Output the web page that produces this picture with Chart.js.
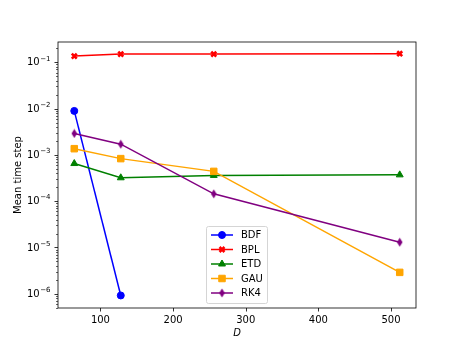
<!DOCTYPE html>
<html>
<head>
<meta charset="utf-8">
<script src="https://cdn.jsdelivr.net/npm/chart.js@4.4.0/dist/chart.umd.min.js"></script>
<style>
  html, body { margin: 0; padding: 0; background: #fff; }
  #wrap { width: 463px; height: 347px; }
</style>
</head>
<body>
<div id="wrap"><canvas id="chart"></canvas></div>
<script>
// values (log y)
const dims = [64, 128, 256, 512];
const bdf = [8.9e-3, 9.2e-7];
const bpl = [0.136, 0.150, 0.150, 0.153];
const etd = [6.5e-4, 3.2e-4, 3.6e-4, 3.7e-4];
const gau = [1.36e-3, 8.3e-4, 4.4e-4, 2.9e-6];
const rk4 = [2.9e-3, 1.7e-3, 1.44e-4, 1.3e-5];
const names = ['BDF', 'BPL', 'ETD', 'GAU', 'RK4'];
const colors = ['#0000ff', '#ff0000', '#008000', '#ffa500', '#800080'];
const xTicks = [100, 200, 300, 400, 500];
const yDecades = [1e-6, 1e-5, 1e-4, 1e-3, 1e-2, 1e-1];

const FONT = '"DejaVu Sans", sans-serif';

// thin diamond marker (matplotlib 'd')
function thinDiamond(color) {
    const c = document.createElement('canvas');
    c.width = 7; c.height = 10;
    const g = c.getContext('2d');
    g.fillStyle = color;
    g.beginPath();
    g.moveTo(3.5, 0.5); g.lineTo(6.3, 5); g.lineTo(3.5, 9.5); g.lineTo(0.7, 5);
    g.closePath(); g.fill();
    return c;
}

const markers = [
    { pointStyle: 'circle', radius: 3.5, borderWidth: 1 },
    { pointStyle: 'crossRot', radius: 3.5, borderWidth: 2.6 },
    { pointStyle: 'triangle', radius: 4, borderWidth: 1 },
    { pointStyle: 'rect', radius: 4.6, borderWidth: 1 },
    { pointStyle: thinDiamond(colors[4]), radius: 4, borderWidth: 1 }
];
const series = [bdf, bpl, etd, gau, rk4];

const datasets = series.map((vals, i) => ({
    label: names[i],
    data: vals.map((v, j) => ({ x: dims[j], y: v })),
    borderColor: colors[i],
    backgroundColor: colors[i],
    borderWidth: 1.5,
    pointStyle: markers[i].pointStyle,
    pointRadius: markers[i].radius,
    pointBorderWidth: markers[i].borderWidth,
    pointHoverRadius: markers[i].radius,
    tension: 0,
    order: 4 - i
}));

const framePlugin = {
    id: 'frame',
    afterDatasetsDraw(chart) {
        const { ctx, chartArea: a, scales: { x, y } } = chart;
        ctx.save();
        ctx.strokeStyle = '#000';
        ctx.lineWidth = 0.8;
        ctx.strokeRect(a.left, a.top, a.right - a.left, a.bottom - a.top);
        ctx.beginPath();
        xTicks.forEach(v => {
            const px = Math.round(x.getPixelForValue(v)) + 0.5;
            ctx.moveTo(px, a.bottom); ctx.lineTo(px, a.bottom + 3.5);
        });
        yDecades.forEach(v => {
            const py = Math.round(y.getPixelForValue(v)) + 0.5;
            ctx.moveTo(a.left, py); ctx.lineTo(a.left - 3.5, py);
        });
        ctx.stroke();
        ctx.lineWidth = 0.6;
        ctx.beginPath();
        for (let e = -7; e <= 0; e++) {
            for (let k = 2; k <= 9; k++) {
                const v = k * Math.pow(10, e);
                if (v < y.min || v > y.max) continue;
                const py = Math.round(y.getPixelForValue(v)) + 0.5;
                ctx.moveTo(a.left, py); ctx.lineTo(a.left - 2, py);
            }
        }
        ctx.stroke();

        // y tick labels as 10 with raised exponent
        ctx.fillStyle = '#000';
        ctx.textBaseline = 'middle';
        ctx.textAlign = 'left';
        yDecades.forEach(v => {
            const py = y.getPixelForValue(v);
            const exp = '\u2212' + Math.abs(Math.round(Math.log10(v)));
            ctx.font = '7px ' + FONT;
            const ew = ctx.measureText(exp).width;
            ctx.font = '10px ' + FONT;
            const bw = ctx.measureText('10').width;
            const right = a.left - 7.5;
            ctx.fillText('10', right - ew - bw - 0.5, py + 0.5);
            ctx.font = '7px ' + FONT;
            ctx.fillText(exp, right - ew, py - 3.5);
        });

        // legend box inside plot
        const lx = 206, ly = 226, lw = 61, lh = 77;
        ctx.fillStyle = 'rgba(255,255,255,0.8)';
        ctx.strokeStyle = '#d5d5d5';
        ctx.lineWidth = 1;
        ctx.beginPath();
        ctx.roundRect(lx + 0.5, ly + 0.5, lw, lh, 2);
        ctx.fill(); ctx.stroke();
        ctx.font = '10px ' + FONT;
        ctx.textBaseline = 'middle';
        names.forEach((n, i) => {
            const yy = 235 + i * 14.5;
            ctx.strokeStyle = colors[i];
            ctx.lineWidth = 1.5;
            ctx.beginPath();
            ctx.moveTo(211, yy); ctx.lineTo(233, yy);
            ctx.stroke();
            ctx.fillStyle = colors[i];
            ctx.lineWidth = markers[i].borderWidth;
            Chart.helpers.drawPoint(ctx, {
                pointStyle: markers[i].pointStyle,
                radius: markers[i].radius,
                borderWidth: markers[i].borderWidth,
                rotation: 0
            }, 222, yy);
            ctx.fillStyle = '#000';
            ctx.fillText(n, 241, yy + 0.5);
        });
        ctx.restore();
    }
};

new Chart(document.getElementById('chart'), {
    type: 'line',
    data: { datasets },
    options: {
        responsive: true,
        maintainAspectRatio: false,
        animation: false,
        layout: { padding: { top: 42, right: 47, left: 0, bottom: 0 } },
        scales: {
            x: {
                type: 'linear',
                min: 41.6,
                max: 534.4,
                afterBuildTicks: s => { s.ticks = xTicks.map(v => ({ value: v })); },
                afterFit: s => { s.height = 39; },
                grid: { display: false, drawTicks: false },
                border: { display: false },
                ticks: { padding: 6, color: '#000', font: { size: 10, family: FONT }, maxRotation: 0 },
                title: { display: true, text: 'D', color: '#000', padding: { top: 0, bottom: 8 },
                         font: { size: 10, family: FONT, style: 'italic' } }
            },
            y: {
                type: 'logarithmic',
                min: 4.93e-7,
                max: 0.274,
                afterBuildTicks: s => { s.ticks = yDecades.map(v => ({ value: v })); },
                afterFit: s => { s.width = 58; },
                grid: { display: false, drawTicks: false },
                border: { display: false },
                ticks: { padding: 6, color: '#000', font: { size: 10, family: FONT },
                         callback: () => '' },
                title: { display: true, text: 'Mean time step', color: '#000', padding: { top: 12, bottom: 0 },
                         font: { size: 10, family: FONT } }
            }
        },
        plugins: {
            legend: { display: false },
            tooltip: { enabled: false }
        }
    },
    plugins: [framePlugin]
});
</script>
</body>
</html>
